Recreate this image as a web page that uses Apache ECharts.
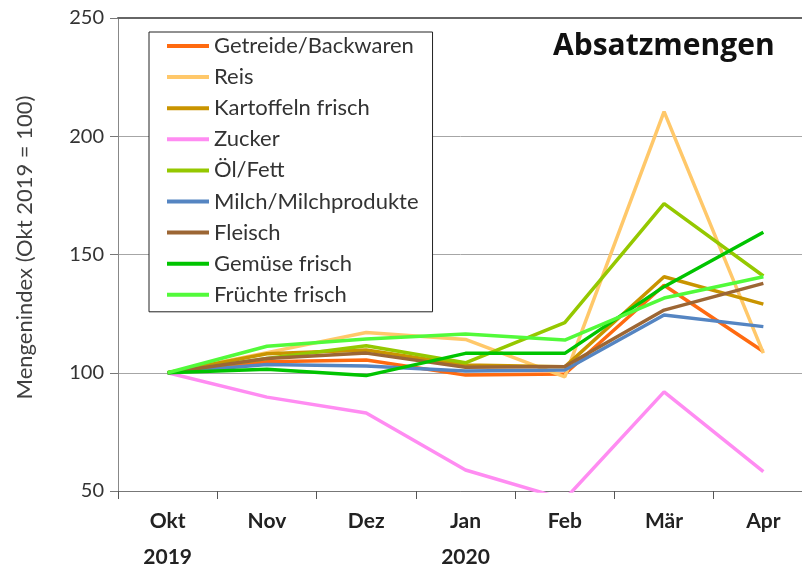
<!DOCTYPE html>
<html>
<head>
<meta charset="utf-8">
<script src="https://cdn.jsdelivr.net/npm/echarts@6/dist/echarts.min.js"></script>
<style>
  html, body { margin: 0; padding: 0; background: #fff; }
  #chart { width: 802px; height: 569px; }
</style>
</head>
<body>
<div id="chart"></div>
<script>
// Monate (Okt 2019 = 100)
const months = ['Okt', 'Nov', 'Dez', 'Jan', 'Feb', 'Mär', 'Apr']
const years = { Okt: '2019', Jan: '2020' }
const yTicks = [50, 100, 150, 200, 250]

const seriesNames = [
  'Getreide/Backwaren', 'Reis', 'Kartoffeln frisch', 'Zucker', 'Öl/Fett',
  'Milch/Milchprodukte', 'Fleisch', 'Gemüse frisch', 'Früchte frisch'
]
const seriesColors = [
  '#ff6a10', '#ffc86a', '#c99400', '#ff8cf2', '#95c800',
  '#5585c2', '#9c6634', '#00c400', '#52fa3a'
]

const getreide   = [100, 104.7, 105.4, 99.0, 99.5, 137.0, 109.0]
const reis       = [100, 108.5, 117.0, 114.1, 98.3, 210.4, 108.3]
const kartoffeln = [100, 108.0, 109.6, 103.3, 102.5, 140.6, 129.0]
const zucker     = [100, 89.7, 83.0, 58.9, 46.5, 91.9, 58.2]
const oel        = [100, 106.0, 111.4, 104.2, 121.2, 171.5, 140.9]
const milch      = [100, 103.5, 102.9, 100.7, 101.2, 124.4, 119.5]
const fleisch    = [100, 106.0, 108.3, 102.3, 102.6, 126.5, 137.8]
const gemuese    = [100, 101.5, 98.8, 108.2, 108.2, 136.4, 159.4]
const fruechte   = [100, 111.2, 114.3, 116.4, 113.8, 131.6, 140.6]

const seriesData = [getreide, reis, kartoffeln, zucker, oel, milch, fleisch, gemuese, fruechte]

const font = 'Lato, "Open Sans", sans-serif'

const chart = echarts.init(document.getElementById('chart'), null, { renderer: 'canvas' })

chart.setOption({
  animation: false,
  backgroundColor: '#ffffff',
  title: {
    text: 'Absatzmengen',
    left: 553,
    top: 31,
    padding: 0,
    textStyle: { fontFamily: '"Open Sans", sans-serif', fontSize: 30, fontWeight: 'bold', color: '#111' }
  },
  legend: {
    orient: 'vertical',
    left: 149,
    top: 32,
    padding: [3, 14, 6, 18],
    itemGap: 9.1,
    itemWidth: 42,
    itemHeight: 4,
    icon: 'rect',
    borderColor: '#222',
    borderWidth: 1,
    backgroundColor: '#fff',
    textStyle: { fontFamily: font, fontSize: 22, lineHeight: 22, color: '#333' },
    data: seriesNames
  },
  grid: {
    left: 118,
    top: 18,
    width: 695,
    height: 473,
    containLabel: false,
    outerBoundsMode: 'none'
  },
  xAxis: [{
    type: 'category',
    data: months,
    boundaryGap: true,
    axisLine: { lineStyle: { color: '#777', width: 1 } },
    axisTick: { show: true, length: 8, lineStyle: { color: '#555' } },
    axisLabel: {
      margin: 12,
      fontFamily: font,
      fontSize: 21,
      fontWeight: 'bold',
      lineHeight: 36,
      color: '#222',
      formatter: m => years[m] ? m + '\n' + years[m] : m
    }
  }, {
    type: 'category',
    data: months,
    position: 'top',
    axisLine: { lineStyle: { color: '#666', width: 2 } },
    axisTick: { show: false },
    axisLabel: { show: false }
  }],
  yAxis: {
    type: 'value',
    min: yTicks[0],
    max: yTicks[yTicks.length - 1],
    interval: 50,
    name: 'Mengenindex (Okt 2019 = 100)',
    nameLocation: 'middle',
    nameGap: 82,
    nameTextStyle: { fontFamily: font, fontSize: 22, color: '#404040', padding: [0, 0, 0, 14] },
    axisLine: { show: true, lineStyle: { color: '#888' } },
    axisTick: { show: true, length: 8, lineStyle: { color: '#777' } },
    axisLabel: { margin: 14, fontFamily: font, fontSize: 20, color: '#333' },
    splitLine: { lineStyle: { color: '#a6a6a6', width: 1 } }
  },
  series: seriesNames.map((name, i) => ({
    name,
    type: 'line',
    data: seriesData[i],
    symbol: 'none',
    clip: true,
    color: seriesColors[i],
    lineStyle: { width: 3.5, color: seriesColors[i] }
  }))
})
</script>
</body>
</html>
